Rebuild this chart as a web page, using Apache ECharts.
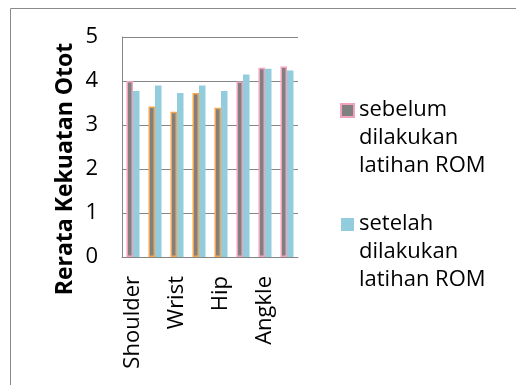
<!DOCTYPE html>
<html>
<head>
<meta charset="utf-8">
<script src="https://cdn.jsdelivr.net/npm/echarts@6/dist/echarts.min.js"></script>
<style>
  html, body { margin: 0; padding: 0; background: #fff; }
  #chart { width: 516px; height: 385px; }
</style>
</head>
<body>
<div id="chart"></div>
<script>
// data
const categories = ["Shoulder", "Elbow", "Wrist", "Finger", "Hip", "Knee", "Angkle", "Toe"];
const sebelum = [4.0, 3.42, 3.3, 3.73, 3.39, 3.99, 4.3, 4.33];
const setelah = [3.77, 3.9, 3.73, 3.9, 3.77, 4.15, 4.28, 4.24];
const seriesNames = ["sebelum\ndilakukan\nlatihan ROM", "setelah\ndilakukan\nlatihan ROM"];
const yTicks = [0, 1, 2, 3, 4, 5];

const FONT = "'Open Sans', sans-serif";
const GRID = "#868686";
const PINK = "#F2A2BC";
const ORANGE = "#F5A54C";
// border colour of each "sebelum" bar (pink / orange as in the picture)
const borderOf = [PINK, ORANGE, ORANGE, ORANGE, ORANGE, PINK, PINK, PINK];

// square marker sitting on the first text line of a 3-line legend item
const LEGEND_ICON = "path://M0,8h13v13h-13zM0,0h0.01M0,84h0.01";

const chart = echarts.init(document.getElementById("chart"), null, { renderer: "canvas" });
chart.setOption({
  animation: false,
  textStyle: { fontFamily: FONT },
  graphic: [{
    type: "rect",
    shape: { x: 10.5, y: 8.5, width: 520, height: 400 },
    style: { fill: "none", stroke: "#8a8a8a", lineWidth: 1 },
  }],
  legend: {
    orient: "vertical",
    left: 340, top: 95, padding: 0,
    itemWidth: 13, itemHeight: 84, itemGap: 29,
    icon: LEGEND_ICON,
    textStyle: { fontFamily: FONT, fontSize: 22, lineHeight: 28, color: "#000" },
    data: seriesNames,
  },
  grid: { left: 122, right: 218, top: 37, bottom: 128 },
  xAxis: {
    type: "category",
    data: categories,
    axisLine: { lineStyle: { color: GRID, width: 1 } },
    axisTick: { show: false },
    axisLabel: { interval: 1, rotate: 90, margin: 19, fontSize: 22, color: "#000", fontFamily: FONT },
  },
  yAxis: {
    type: "value",
    min: yTicks[0], max: yTicks[yTicks.length - 1], interval: 1,
    name: "Rerata Kekuatan Otot",
    nameLocation: "middle",
    nameGap: 45,
    nameTextStyle: { fontSize: 23, fontWeight: "bold", color: "#000", fontFamily: FONT, padding: [0, 44, 0, 0] },
    axisLine: { show: true, lineStyle: { color: GRID, width: 1 } },
    axisTick: { show: false },
    splitLine: { lineStyle: { color: GRID, width: 1 } },
    axisLabel: { margin: 24, fontSize: 22, color: "#000", fontFamily: FONT },
  },
  series: [
    {
      name: seriesNames[0], type: "bar", barWidth: 6.5, barGap: "0%",
      itemStyle: { color: "#808080", borderColor: PINK, borderWidth: 1.5 },
      data: sebelum.map((v, i) => ({ value: v, itemStyle: { borderColor: borderOf[i] } })),
    },
    {
      name: seriesNames[1], type: "bar", barWidth: 6.5, barGap: "0%",
      itemStyle: { color: "#93CDDD" },
      data: setelah,
    },
  ],
});
</script>
</body>
</html>
